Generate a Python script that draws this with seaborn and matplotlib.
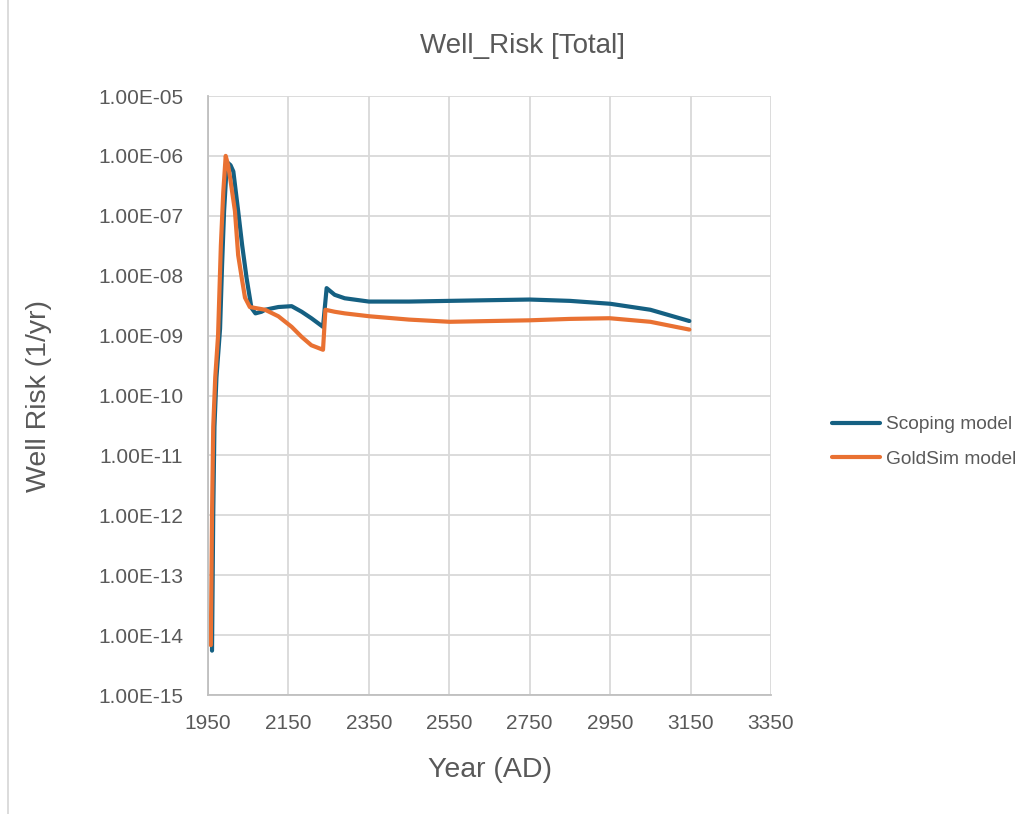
import numpy as np
import pandas as pd
import matplotlib
matplotlib.use("Agg")
import matplotlib.pyplot as plt
from matplotlib.lines import Line2D
import seaborn as sns

# ---- data ----
scoping_years = [1960, 1963, 1966, 1971, 1980, 1985, 1990, 1995, 2000, 2006, 2013,
                 2025, 2035, 2046, 2058, 2068, 2083, 2092, 2125, 2158, 2183, 2207, 2236,
                 2245, 2265, 2290, 2350, 2450, 2550, 2650, 2750, 2850, 2950, 3050, 3147]
scoping_vals = [5.5e-15, 1e-12, 3e-11, 2e-10, 1.3e-9, 1.5e-8, 1.2e-7, 4.5e-7, 7.6e-7, 7e-7, 5.5e-7,
                1.2e-7, 3.2e-8, 9.1e-9, 2.9e-9, 2.35e-9, 2.5e-9, 2.7e-9, 3.0e-9, 3.1e-9, 2.5e-9, 1.95e-9, 1.4e-9,
                6.2e-9, 4.8e-9, 4.2e-9, 3.7e-9, 3.7e-9, 3.8e-9, 3.9e-9, 4.0e-9, 3.8e-9, 3.4e-9, 2.7e-9, 1.75e-9]

goldsim_years = [1957, 1960, 1963, 1968, 1975, 1982, 1988, 1994, 2000, 2005, 2017,
                 2025, 2034, 2042, 2054, 2092, 2125, 2158, 2183, 2207, 2236,
                 2242, 2265, 2290, 2352, 2450, 2551, 2650, 2750, 2850, 2949, 3050, 3147]
goldsim_vals = [6.8e-15, 1e-12, 3e-11, 2e-10, 1e-9, 3.2e-8, 2.5e-7, 1e-6, 7e-7, 4.3e-7, 1.2e-7,
                2.2e-8, 9.1e-9, 4.3e-9, 3.0e-9, 2.7e-9, 2.1e-9, 1.4e-9, 9.5e-10, 6.9e-10, 5.8e-10,
                2.7e-9, 2.5e-9, 2.35e-9, 2.1e-9, 1.85e-9, 1.7e-9, 1.75e-9, 1.8e-9, 1.9e-9, 1.95e-9, 1.7e-9, 1.26e-9]

series_names = ["Scoping model", "GoldSim model"]
x_ticks = [1950, 2150, 2350, 2550, 2750, 2950, 3150, 3350]
y_ticks = [1e-15, 1e-14, 1e-13, 1e-12, 1e-11, 1e-10, 1e-9, 1e-8, 1e-7, 1e-6, 1e-5]
y_tick_labels = ["1.00E-15", "1.00E-14", "1.00E-13", "1.00E-12", "1.00E-11", "1.00E-10",
                 "1.00E-09", "1.00E-08", "1.00E-07", "1.00E-06", "1.00E-05"]

df = pd.concat([
    pd.DataFrame({"Year": scoping_years, "Risk": scoping_vals, "Series": series_names[0]}),
    pd.DataFrame({"Year": goldsim_years, "Risk": goldsim_vals, "Series": series_names[1]}),
], ignore_index=True)

sns.set_style("white")
plt.rcParams["font.family"] = ["Liberation Sans", "DejaVu Sans"]
text_color = "#595959"
grid_color = "#D9D9D9"
palette = {"Scoping model": "#156082", "GoldSim model": "#E97132"}

fig = plt.figure(figsize=(10.28, 8.14), dpi=100)
ax = fig.add_axes([208/1028, 1-695/814, (771-208)/1028, (695-96)/814])

sns.lineplot(data=df, x="Year", y="Risk", hue="Series", hue_order=series_names,
             palette=palette, linewidth=3.0, ax=ax, sort=False, estimator=None,
             legend=False)
for ln in ax.get_lines():
    ln.set_solid_joinstyle("round")
    ln.set_solid_capstyle("round")

ax.set_yscale("log")
ax.set_xlim(1950, 3350)
ax.set_ylim(1e-15, 1e-5)
ax.set_xticks(x_ticks)
ax.set_xticklabels([str(t) for t in x_ticks])
ax.set_yticks(y_ticks)
ax.set_yticklabels(y_tick_labels)
ax.yaxis.set_minor_locator(matplotlib.ticker.NullLocator())
ax.tick_params(axis="both", length=0, labelsize=15, colors=text_color)
ax.tick_params(axis="x", pad=14)
ax.tick_params(axis="y", pad=18)
ax.grid(True, color=grid_color, linewidth=1.3)
ax.set_axisbelow(True)
for s in ["top", "right"]:
    ax.spines[s].set_visible(False)
for s in ["left", "bottom"]:
    ax.spines[s].set_color("#BFBFBF")
    ax.spines[s].set_linewidth(1.3)

ax.set_xlabel("Year (AD)", fontsize=20.5, color=text_color)
ax.set_ylabel("Well Risk (1/yr)", fontsize=20.5, color=text_color)
ax.xaxis.set_label_coords(0.5, (695-757)/599)
ax.yaxis.set_label_coords((52-208)/563, 0.5)

fig.text(523/1028, 1-46/814, "Well_Risk [Total]", ha="center", va="center",
         fontsize=20, color=text_color)

handles = [Line2D([0], [0], color=palette[n], linewidth=3.0) for n in series_names]
leg = ax.legend(handles, series_names, loc="center left",
                bbox_to_anchor=((832-208)/563, (695-442)/599), frameon=False,
                fontsize=13.8, handlelength=2.5, handletextpad=0.3, labelspacing=0.9,
                borderpad=0, borderaxespad=0)
for t in leg.get_texts():
    t.set_color(text_color)

fig.add_artist(Line2D([8/1028, 8/1028], [0, 1], transform=fig.transFigure,
                      color="#D9D9D9", linewidth=1.3))

fig.savefig("out.png", dpi=100, facecolor="white")
